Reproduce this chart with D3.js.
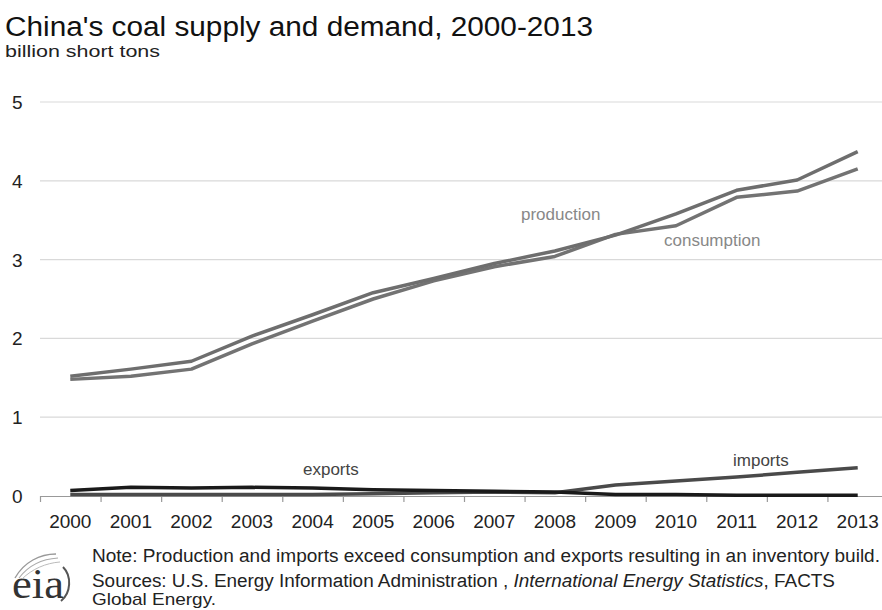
<!DOCTYPE html>
<html><head><meta charset="utf-8">
<script src="https://cdn.jsdelivr.net/npm/d3@7"></script>
<style>body{margin:0;background:#fff}svg{display:block;font-family:"Liberation Sans",Arial,sans-serif}</style>
</head><body><svg id="c" width="882" height="610"></svg>
<script>
const years = ["2000","2001","2002","2003","2004","2005","2006","2007","2008","2009","2010","2011","2012","2013"];
const production  = [1.52,1.61,1.71,2.03,2.30,2.58,2.76,2.95,3.11,3.31,3.58,3.88,4.01,4.37];
const consumption = [1.48,1.52,1.61,1.93,2.22,2.50,2.73,2.91,3.04,3.32,3.43,3.79,3.87,4.15];
const imports     = [0.02,0.02,0.02,0.02,0.02,0.03,0.04,0.05,0.04,0.14,0.19,0.24,0.30,0.36];
const exports     = [0.07,0.11,0.10,0.11,0.10,0.08,0.07,0.06,0.05,0.02,0.02,0.01,0.01,0.01];
const yTicks = [0,1,2,3,4,5];

const svg = d3.select("#c");
const x = d3.scaleBand().domain(years).range([40, 888]);
const y = d3.scaleLinear().domain([0,5]).range([496, 102]);

// title
svg.append("text").attr("x",5).attr("y",36).attr("font-size",27).attr("fill","#111")
  .attr("textLength",588).attr("lengthAdjust","spacingAndGlyphs").text("China's coal supply and demand, 2000-2013");
svg.append("text").attr("x",5).attr("y",57).attr("font-size",16).attr("fill","#222")
  .attr("textLength",155).attr("lengthAdjust","spacingAndGlyphs").text("billion  short  tons");

// gridlines
svg.append("g").selectAll("line").data(yTicks.filter(d=>d>0)).join("line")
  .attr("x1",40).attr("x2",882).attr("y1",d=>y(d)).attr("y2",d=>y(d))
  .attr("stroke","#d9d9d9").attr("stroke-width",1.2);

// y labels
svg.append("g").selectAll("text").data(yTicks).join("text")
  .attr("x",12).attr("y",d=>y(d)+7).attr("font-size",19).attr("fill","#222").text(d=>d);

// x axis
const xa = svg.append("g").attr("transform","translate(0,496)")
  .call(d3.axisBottom(x).tickSize(0).tickPadding(19));
xa.select(".domain").remove();
xa.selectAll("text").attr("font-size",19).attr("fill","#222").attr("font-family","Liberation Sans, Arial, sans-serif");
svg.append("line").attr("x1",40).attr("x2",882).attr("y1",496.5).attr("y2",496.5).attr("stroke","#999").attr("stroke-width",1.2);
svg.append("g").selectAll("line").data(years).join("line")
  .attr("x1",d=>x(d)+0.5).attr("x2",d=>x(d)+0.5).attr("y1",496).attr("y2",502)
  .attr("stroke","#999").attr("stroke-width",1.2);

const line = d3.line().x((d,i)=>x(years[i])+x.bandwidth()/2).y(d=>y(d));
function draw(data,color,w){
  svg.append("path").datum(data).attr("d",line).attr("fill","none")
    .attr("stroke",color).attr("stroke-width",w).attr("stroke-linejoin","round");
}
draw(imports,"#4a4a4a",3.5);
draw(exports,"#1a1a1a",3.5);
draw(consumption,"#737373",3.5);
draw(production,"#6e6e6e",3.5);

// labels
const lab = [["production",521,220],["consumption",664,246],["exports",303,475],["imports",733,466]];
svg.append("g").selectAll("text").data(lab).join("text")
  .attr("x",d=>d[1]).attr("y",d=>d[2])
  .attr("font-size",17).attr("fill",d=>d[0]==="exports"||d[0]==="imports"?"#444":"#888").text(d=>d[0]);

// notes
const notes = svg.append("g").attr("font-size",18).attr("fill","#222");
notes.append("text").attr("x",92).attr("y",562).attr("textLength",788).attr("lengthAdjust","spacingAndGlyphs")
  .text("Note: Production and imports exceed consumption and exports resulting in  an inventory build.");
const s = notes.append("text").attr("x",92).attr("y",587).attr("textLength",743).attr("lengthAdjust","spacingAndGlyphs");
s.append("tspan").text("Sources: U.S. Energy Information Administration , ");
s.append("tspan").attr("font-style","italic").text("International Energy Statistics");
s.append("tspan").text(", FACTS");
notes.append("text").attr("x",92).attr("y",605).attr("font-size",17).attr("textLength",124).attr("lengthAdjust","spacingAndGlyphs").text("Global Energy.");

// eia logo
const logo = svg.append("g");
logo.append("text").attr("x",12).attr("y",598).attr("font-family","Liberation Serif, Times New Roman, serif")
  .attr("font-size",42).attr("fill","#333").attr("textLength",52).attr("lengthAdjust","spacingAndGlyphs").text("eia");
logo.append("path").attr("d","M15,578 C24,562 40,554 56,554").attr("fill","none").attr("stroke","#999").attr("stroke-width",1.4);
logo.append("path").attr("d","M19,578 C28,566 42,559 58,558").attr("fill","none").attr("stroke","#aaa").attr("stroke-width",1.1);
logo.append("path").attr("d","M22,579 C32,569 46,563 60,562").attr("fill","none").attr("stroke","#bbb").attr("stroke-width",1);
logo.append("path").attr("d","M63,567 C72,576 71,593 61,601").attr("fill","none").attr("stroke","#555").attr("stroke-width",2);
</script></body></html>
